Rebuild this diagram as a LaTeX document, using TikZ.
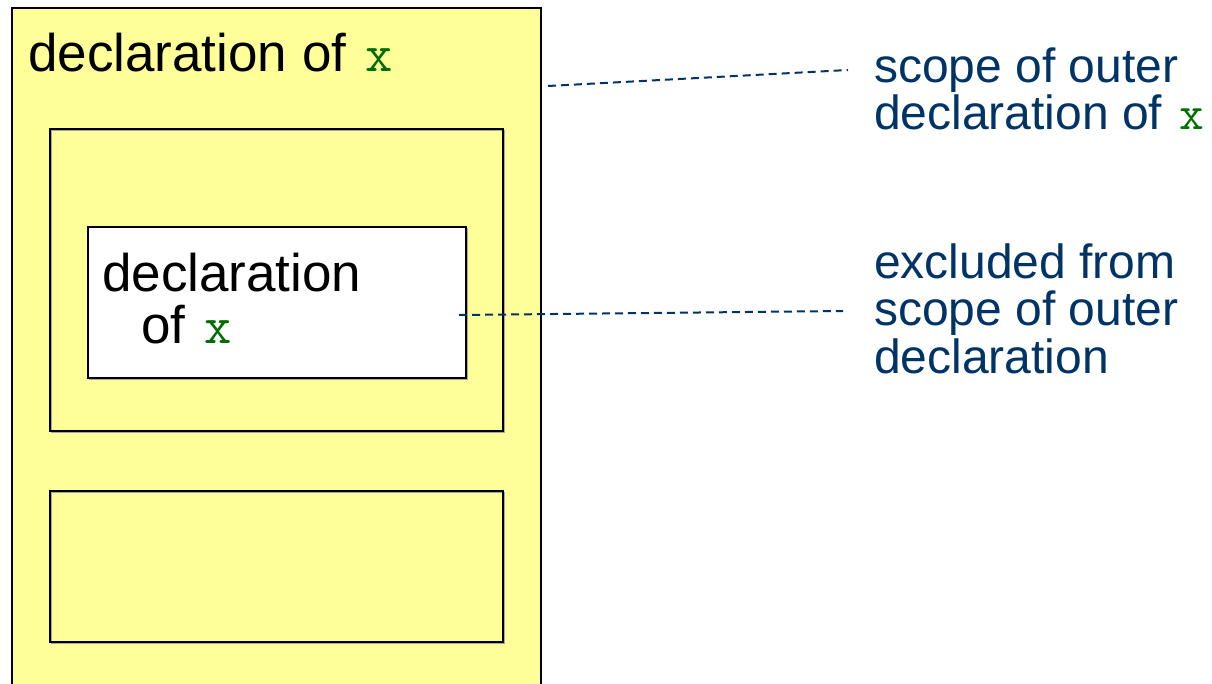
\documentclass[tikz,border=0pt]{standalone}
\usepackage{fontspec}
\setmainfont{Liberation Sans}
\definecolor{scopeyellow}{HTML}{FFFF99}
\definecolor{noteblue}{HTML}{003366}
\definecolor{codegreen}{HTML}{006E00}
\newcommand{\codevar}[1]{\kern4pt{\ttfamily\color{codegreen}#1}}
\begin{document}
\begin{tikzpicture}[x=1pt,y=-1pt,
  blockbox/.style={draw=black, line width=1.8pt, anchor=north west, inner sep=0pt, outer sep=0pt},
  shade/.style={draw=black!35, line width=1.2pt},
  bigtext/.style={anchor=base west, inner sep=0pt, font=\fontsize{53}{60}\selectfont},
  notetext/.style={anchor=base west, inner sep=0pt, text=noteblue, font=\fontsize{48}{54}\selectfont},
  leader/.style={draw=noteblue, line width=2pt, dash pattern=on 8pt off 5pt}]
\useasboundingbox (0,0) rectangle (1212,684);
\fill[white] (0,0) rectangle (1212,684);

% outer block (runs past the lower edge)
\node[blockbox, fill=scopeyellow, minimum width=529pt, minimum height=712pt] (outer) at (12,8) {};

% nested blocks with a faint shadow edge
\draw[shade] (51.5,130.5) rectangle (504.5,432.5);
\node[blockbox, minimum width=453pt, minimum height=302pt] (inner) at (50,129) {};
\draw[shade] (89.5,228.5) rectangle (467.5,379.5);
\node[blockbox, fill=white, minimum width=378pt, minimum height=151pt] (shadowing) at (88,227) {};
\draw[shade] (51.5,492.5) rectangle (504.5,643.5);
\node[blockbox, minimum width=453pt, minimum height=151pt] (sibling) at (50,491) {};

% declarations
\node[bigtext] (outerdecl) at (28,72) {declaration of \codevar{x}};
\node[bigtext] (innerdecl1) at (102,292) {declaration};
\node[bigtext] (innerdecl2) at (141,343) {of \codevar{x}};

% annotations
\node[notetext] (scopeA) at (874,83) {scope of outer};
\node[notetext] (scopeB) at (874,130) {declaration of \codevar{x}};
\node[notetext] (exclA) at (874,279) {excluded from};
\node[notetext] (exclB) at (874,326) {scope of outer};
\node[notetext] (exclC) at (874,373) {declaration};

% leader lines
\coordinate (leadA) at (548,86);
\coordinate (leadAend) at (848,70);
\coordinate (leadB) at (459,315);
\coordinate (leadBend) at (843,311);
\draw[leader] (leadA) -- (leadAend);
\draw[leader] (leadB) -- (leadBend);
\end{tikzpicture}
\end{document}
